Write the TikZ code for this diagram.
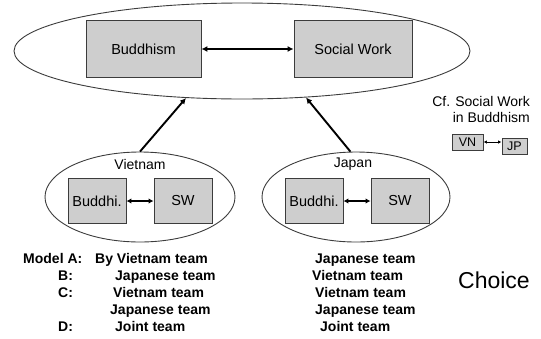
\documentclass[tikz,border=0pt]{standalone}
\usepackage{fontspec}
\setmainfont{Liberation Sans}
\usetikzlibrary{arrows.meta,shapes.geometric}
\definecolor{boxfill}{RGB}{206,206,206}
\definecolor{edgecol}{RGB}{60,60,60}
\begin{document}
\begin{tikzpicture}[x=1pt,y=-1pt,
  box/.style={draw=edgecol, fill=boxfill, line width=0.9pt, inner sep=0pt, font=\fontsize{14.5}{17}\selectfont},
  oval/.style={draw=edgecol, ellipse, line width=0.9pt, inner sep=0pt},
  conn/.style={line width=2.2pt, <->, >={Latex[length=6pt,width=6pt]}},
  sconn/.style={line width=2pt, <->, >={Latex[length=5pt,width=5.5pt]}},
  tconn/.style={line width=1pt, <->, >={Latex[length=3.5pt,width=3.5pt]}},
  upar/.style={line width=1.9pt, ->, >={Latex[length=6pt,width=6pt]}},
  lbl/.style={inner sep=0pt, font=\fontsize{14}{16}\selectfont},
  mtext/.style={inner sep=0pt, anchor=base west, font=\fontsize{14}{17}\bfseries\selectfont},
]
\useasboundingbox (0,0) rectangle (541,338);
% top
\node[oval, minimum width=456, minimum height=96] (big) at (242,51) {};
\node[box, minimum width=115, minimum height=57] (bud) at (143.5,49) {Buddhism};
\node[box, minimum width=118, minimum height=57] (sw) at (353,49) {Social Work};
\draw[conn] (bud) -- (sw);
% country ovals
\node[oval, minimum width=190, minimum height=90] (vn) at (140,197) {};
\node[oval, minimum width=188, minimum height=90] (jp) at (356,197) {};
\node[lbl] (vnl) at (140,164) {Vietnam};
\node[lbl] (jpl) at (353,164) {Japan};
\node[box, minimum width=58, minimum height=45] (vb) at (97,201) {Buddhi.};
\node[box, minimum width=58, minimum height=45] (vs) at (183,201) {SW};
\node[box, minimum width=58, minimum height=45] (jb) at (314,201) {Buddhi.};
\node[box, minimum width=58, minimum height=45] (js) at (400,201) {SW};
\draw[sconn] (vb) -- (vs);
\draw[sconn] (jb) -- (js);
\draw[upar] (vn.north) -- (big.220.3);
\draw[upar] (jp.97) -- (big.324.7);
% cf
\node[lbl, anchor=base east] (cf1) at (530,106) {Cf. Social Work};
\node[lbl, anchor=base east] (cf2) at (530,122) {in Buddhism};
\node[box, minimum width=31, minimum height=16, font=\fontsize{12.5}{14}\selectfont] (vnb) at (467.5,142) {VN};
\node[box, minimum width=25, minimum height=16, font=\fontsize{12.5}{14}\selectfont] (jpb) at (514.5,146) {JP};
\coordinate (jpin) at (jpb.west |- vnb.east);
\draw[tconn] (vnb.east) -- (jpin);
% models
\node[mtext] (ma) at (23,263) {Model A:};
\node[mtext] (mb) at (58,280.5) {B:};
\node[mtext] (mc) at (58,297) {C:};
\node[mtext] (md) at (58,331) {D:};
\node[mtext] (l1) at (95,263) {By Vietnam team};
\node[mtext] (l2) at (115,280.5) {Japanese team};
\node[mtext] (l3) at (113,297) {Vietnam team};
\node[mtext] (l4) at (110,314) {Japanese team};
\node[mtext] (l5) at (115,331) {Joint team};
\node[mtext] (r1) at (315,263) {Japanese team};
\node[mtext] (r2) at (312,280.5) {Vietnam team};
\node[mtext] (r3) at (315,297) {Vietnam team};
\node[mtext] (r4) at (315,314) {Japanese team};
\node[mtext] (r5) at (320,331) {Joint team};
\node[inner sep=0pt, anchor=base west, font=\fontsize{23}{26}\selectfont] (ch) at (458,288) {Choice};
\end{tikzpicture}
\end{document}
